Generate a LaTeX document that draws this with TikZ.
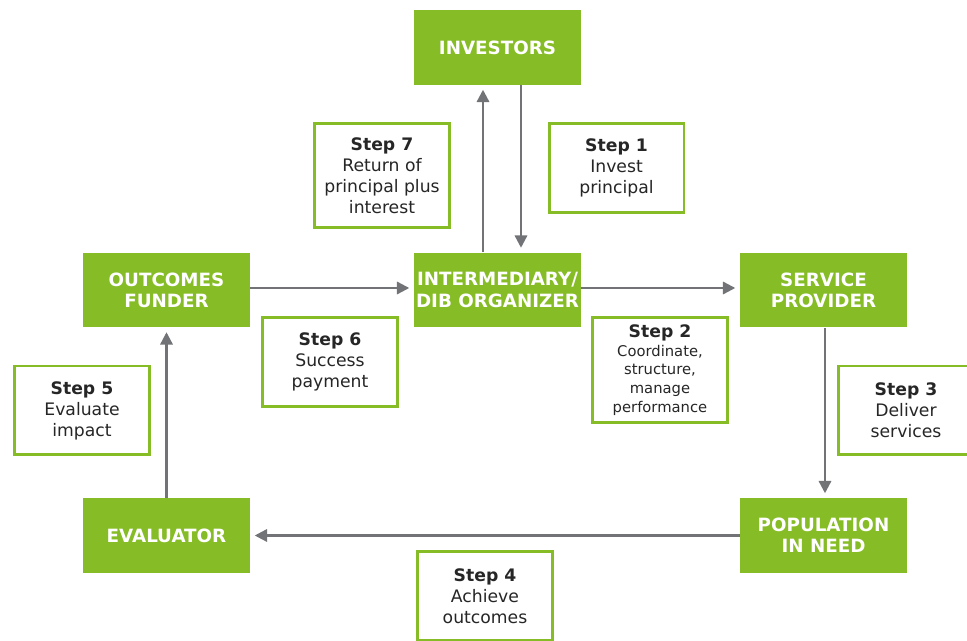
\documentclass[tikz,border=0pt]{standalone}
\usepackage{fontspec}
\setmainfont{DejaVu Sans}
\usetikzlibrary{arrows.meta, positioning}
\definecolor{leaf}{HTML}{86BC25}
\definecolor{arrowgray}{HTML}{727376}
\definecolor{inkgray}{HTML}{262626}
\tikzset{
  % Party blocks
  party/.style={
    rectangle, fill=leaf, minimum width=3.34cm, minimum height=1.5cm,
    text=white, font=\fontsize{10.4}{12}\selectfont\bfseries,
    align=center, inner sep=1pt
  },
  % Step boxes
  stepbox/.style={
    rectangle, draw=leaf, line width=1.7pt, fill=white,
    minimum width=2.7cm, minimum height=#1, text=inkgray,
    font=\fontsize{9.8}{12}\selectfont, align=center, inner sep=2pt
  },
  stepbox/.default=1.78cm,
  % Arrow styles
  flow/.style={-{Triangle[length=7pt, width=7pt]}, line width=1.3pt,
    color=arrowgray, shorten >=2.5pt},
}

\begin{document}
\begin{tikzpicture}[x=0.02cm, y=-0.02cm]
  \useasboundingbox (0,0) rectangle (967,641);

  % parties
  \node[party] (inv) at (497.5,47.5) {INVESTORS};
  \node[party] (mid) at (497.5,290) {INTERMEDIARY/\\DIB ORGANIZER};
  \node[party] (fun) at (166.5,290) {OUTCOMES\\FUNDER};
  \node[party] (srv) at (823.5,290) {SERVICE\\PROVIDER};
  \node[party] (eva) at (166.5,535.5) {EVALUATOR};
  \node[party] (pop) at (823.5,535.5) {POPULATION\\IN NEED};

  % steps
  \node[stepbox=2.08cm] (s7) at (382,175.5) {\textbf{Step 7}\\Return of\\principal plus\\interest};
  \node[stepbox] (s1) at (616.5,168) {\textbf{Step 1}\\Invest\\principal};
  \node[stepbox] (s6) at (330,362) {\textbf{Step 6}\\Success\\payment};
  \node[stepbox=2.1cm, font=\fontsize{8.4}{10.6}\selectfont] (s2) at (660,370)
    {{\fontsize{9.8}{12}\selectfont\textbf{Step 2}}\\Coordinate,\\structure,\\manage\\performance};
  \node[stepbox] (s5) at (82,410.5) {\textbf{Step 5}\\Evaluate\\impact};
  \node[stepbox] (s3) at (906,410.5) {\textbf{Step 3}\\Deliver\\services};
  \node[stepbox] (s4) at (485,596) {\textbf{Step 4}\\Achieve\\outcomes};

  % flows
  \draw[flow] (inv.south -| 521,0) -- (mid.north -| 521,0);
  \draw[flow] (mid.north -| 483,0) -- (inv.south -| 483,0);
  \draw[flow] (fun.east |- 0,288) -- (mid.west |- 0,288);
  \draw[flow] (mid.east |- 0,288) -- (srv.west |- 0,288);
  \draw[flow] (srv.south -| 825,0) -- (pop.north -| 825,0);
  \draw[flow] (pop.west) -- (eva.east);
  \draw[flow] (eva.north) -- (fun.south);
\end{tikzpicture}
\end{document}
